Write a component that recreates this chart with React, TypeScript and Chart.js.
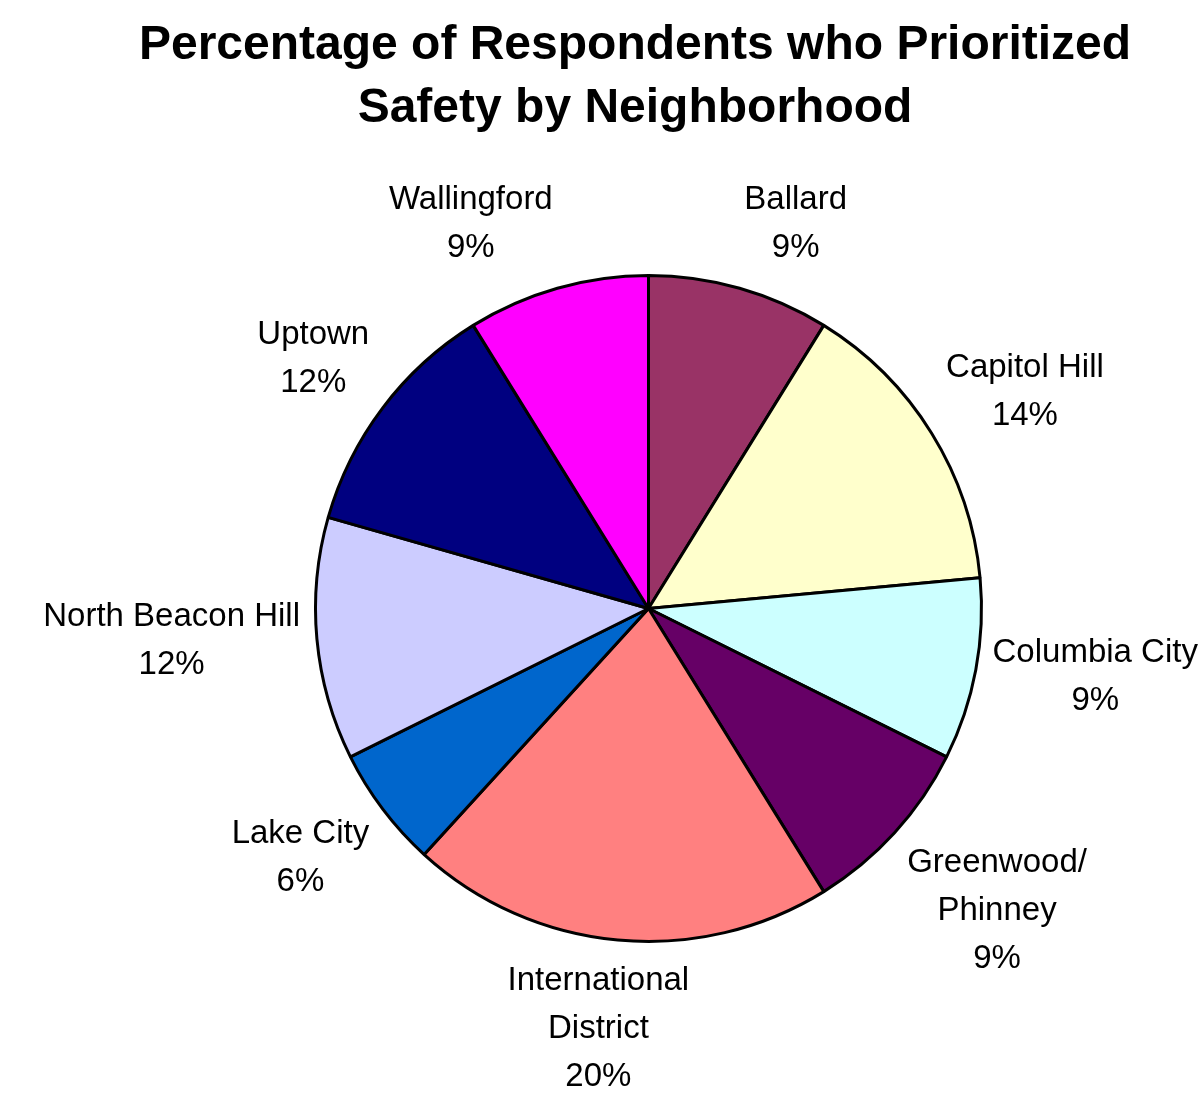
import React, { useEffect, useRef } from "react";
import { Chart, registerables } from "chart.js";

Chart.register(...registerables);

const TITLE_LINES = ["Percentage of Respondents who Prioritized", "Safety by Neighborhood"];

const neighborhoods: string[][] = [
  ["Ballard"],
  ["Capitol Hill"],
  ["Columbia City"],
  ["Greenwood/", "Phinney"],
  ["International", "District"],
  ["Lake City"],
  ["North Beacon Hill"],
  ["Uptown"],
  ["Wallingford"],
];

// respondents who prioritized safety (slice sizes)
const respondents = [3, 5, 3, 3, 7, 2, 4, 4, 3];

// percentages as printed on the chart
const percentLabels = ["9%", "14%", "9%", "9%", "20%", "6%", "12%", "12%", "9%"];

const sliceColors = [
  "#993366",
  "#FFFFCC",
  "#CCFFFF",
  "#660066",
  "#FF8080",
  "#0066CC",
  "#CCCCFF",
  "#000080",
  "#FF00FF",
];

const FONT = "'Liberation Sans', Arial, sans-serif";

const outsideLabels = {
  id: "outsideLabels",
  afterDatasetsDraw(chart: any) {
    const ctx = chart.ctx;
    const meta = chart.getDatasetMeta(0);
    const lineH = 48;
    ctx.save();
    ctx.fillStyle = "#000";
    ctx.font = `33px ${FONT}`;
    ctx.textAlign = "center";
    ctx.textBaseline = "middle";
    const clamp = (v: number) => Math.max(-1, Math.min(1, v));
    meta.data.forEach((arc: any, i: number) => {
      const p = arc.getProps(["startAngle", "endAngle", "outerRadius", "x", "y"], true);
      const mid = (p.startAngle + p.endAngle) / 2;
      const dist = p.outerRadius + 17;
      const ax = p.x + Math.cos(mid) * dist;
      const ay = p.y + Math.sin(mid) * dist;
      const lines = [...(chart.data.labels[i] as string[]), percentLabels[i]];
      const w = Math.max(...lines.map((l: string) => ctx.measureText(l).width));
      const h = lines.length * lineH;
      const s = Math.sin(mid);
      const c = Math.cos(mid);
      const fy = Math.sign(s) * clamp(Math.max(0, 1.7 * (Math.abs(s) - 0.13)));
      const fx = Math.sign(c) * clamp(7 * Math.pow(Math.abs(c), 1.5));
      const cx = ax + fx * (w / 2);
      const cy = ay + fy * (h / 2);
      lines.forEach((l: string, k: number) => {
        ctx.fillText(l, cx, cy - h / 2 + lineH / 2 + k * lineH);
      });
    });
    ctx.restore();
  },
};

const titlePlugin = {
  id: "titleText",
  afterDraw(chart: any) {
    const ctx = chart.ctx;
    ctx.save();
    ctx.fillStyle = "#000";
    ctx.font = `bold 48px ${FONT}`;
    ctx.textAlign = "center";
    ctx.textBaseline = "middle";
    TITLE_LINES.forEach((t, k) => ctx.fillText(t, 635, 46 + k * 63));
    ctx.restore();
  },
};

export default function App() {
  const ref = useRef<HTMLCanvasElement | null>(null);
  useEffect(() => {
    if (!ref.current) return;
    const chart = new Chart(ref.current, {
      type: "pie",
      data: {
        labels: neighborhoods as any,
        datasets: [
          {
            data: respondents,
            backgroundColor: sliceColors,
            borderColor: "#000",
            borderWidth: 3,
          },
        ],
      },
      options: {
        responsive: false,
        animation: false,
        layout: { padding: { left: 314, top: 274, right: 220, bottom: 151 } },
        plugins: {
          legend: { display: false },
          tooltip: { enabled: false },
          title: { display: false },
        },
      },
      plugins: [outsideLabels, titlePlugin],
    });
    return () => chart.destroy();
  }, []);
  return (
    <div style={{ position: "fixed", left: 0, top: 0, width: 1203, height: 1094, background: "#fff" }}>
      <canvas ref={ref} width={1203} height={1094} style={{ display: "block" }} />
    </div>
  );
}
